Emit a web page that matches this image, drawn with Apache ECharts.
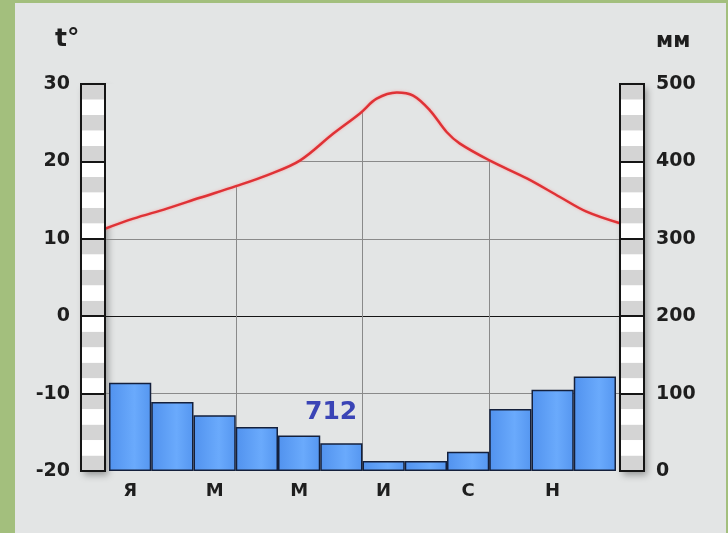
<!DOCTYPE html>
<html><head><meta charset="utf-8">
<script src="https://cdn.jsdelivr.net/npm/echarts@6/dist/echarts.min.js"></script>
<style>
html,body{margin:0;padding:0;}
body{width:728px;height:533px;background:#a3bf7d;position:relative;overflow:hidden;}
#bg{position:absolute;left:15px;top:3px;width:711px;height:530px;background:#e3e5e5;}
#chart{position:absolute;left:0;top:0;width:728px;height:533px;}
</style></head><body>
<div id="bg"></div><div id="chart"></div>
<script>
// ---- data ----
const months = ['Я','Ф','М','А','М','И','И','А','С','О','Н','Д'];
const precipitation = [114, 89, 72, 57, 46, 36, 13, 13, 25, 80, 105, 122];
// temperature curve: month position (0..12) and °C
const tempPos    = [0, 0.66, 1.44, 2.21, 3.05, 3.77, 4.54, 5.32, 5.94, 6.33, 6.80, 7.18, 7.57, 7.96, 8.27, 8.97, 9.83, 10.60, 11.22, 12];
const tempValues = [11.3, 12.6, 13.9, 15.3, 16.8, 18.2, 20.1, 23.6, 26.2, 28.1, 28.9, 28.5, 26.6, 23.8, 22.3, 20.1, 17.8, 15.4, 13.5, 12.0];
const tempMin = -20, tempMax = 30, tempStep = 10, stripeStep = 2;
const precMin = 0, precMax = 500, precStep = 100, precStripe = 20;
const seasonStep = 3;
const totalPrecip = 712;
const tempUnit = 't°', precUnit = 'мм';

const BG = '#e3e5e5';
const FONT = '"DejaVu Sans", Verdana, sans-serif';
const chart = echarts.init(document.getElementById('chart'));

const stripeBox = { top: 84, height: 387, width: 24 };
const stripeGrid = Object.assign({ show: true, z: 3, backgroundColor: 'transparent', borderColor: '#151515', borderWidth: 2 }, stripeBox);
const shadowGrid = Object.assign({ show: true, z: -1, backgroundColor: '#ffffff', borderWidth: 0,
  shadowColor: 'rgba(0,0,0,0.35)', shadowBlur: 7, shadowOffsetX: 3, shadowOffsetY: 4 }, stripeBox);
const labelStyle = { color: '#1e1e1e', fontWeight: 'bold', fontSize: 19, fontFamily: FONT };
const hiddenValue = (g) => ({ gridIndex: g, type: 'value', min: 0, max: 1, show: false, splitLine: { show: false } });

chart.setOption({
  animation: false,
  grid: [
    Object.assign({ left: 81 }, stripeGrid),
    Object.assign({ left: 620 }, stripeGrid),
    { left: 109, top: 84, width: 507, height: 387 },
    { left: 105, top: 84, width: 515, height: 387 },
    Object.assign({ left: 81 }, shadowGrid),
    Object.assign({ left: 620 }, shadowGrid)
  ],
  xAxis: [
    hiddenValue(0),
    hiddenValue(1),
    { gridIndex: 2, type: 'category', data: months, boundaryGap: true,
      axisLine: { show: false }, axisTick: { show: false },
      axisLabel: Object.assign({ interval: 1, margin: 11 }, labelStyle, { fontSize: 18 }),
      splitLine: { show: false } },
    { gridIndex: 3, type: 'value', min: 0, max: 12, show: false },
    { gridIndex: 2, type: 'value', position: 'top', min: 0, max: months.length, interval: seasonStep,
      axisLabel: { show: false }, axisLine: { show: false }, axisTick: { show: false },
      splitLine: { show: true, lineStyle: { color: ['transparent', '#8a8a8a', '#8a8a8a', '#8a8a8a', 'transparent'], width: 1 } } },
    hiddenValue(4),
    hiddenValue(5)
  ],
  yAxis: [
    { gridIndex: 0, type: 'value', position: 'left', min: tempMin, max: tempMax, interval: stripeStep,
      axisLabel: { show: false }, axisLine: { show: false }, axisTick: { show: false },
      splitLine: { show: false }, splitArea: { show: true, areaStyle: { color: ['#d4d4d4', '#ffffff'] } } },
    { gridIndex: 0, type: 'value', position: 'left', min: tempMin, max: tempMax, interval: tempStep,
      axisLine: { show: false }, axisTick: { show: false },
      axisLabel: Object.assign({ margin: 11 }, labelStyle),
      splitLine: { show: true, lineStyle: { color: '#151515', width: 2 } } },
    { gridIndex: 1, type: 'value', position: 'right', min: precMin, max: precMax, interval: precStripe,
      axisLabel: { show: false }, axisLine: { show: false }, axisTick: { show: false },
      splitLine: { show: false }, splitArea: { show: true, areaStyle: { color: ['#d4d4d4', '#ffffff'] } } },
    { gridIndex: 1, type: 'value', position: 'right', min: precMin, max: precMax, interval: precStep,
      axisLine: { show: false }, axisTick: { show: false },
      axisLabel: Object.assign({ margin: 12 }, labelStyle),
      splitLine: { show: true, lineStyle: { color: '#151515', width: 2 } } },
    { gridIndex: 2, type: 'value', min: precMin, max: precMax, show: false, splitLine: { show: false } },
    { gridIndex: 3, type: 'value', min: tempMin, max: tempMax, interval: tempStep,
      axisLabel: { show: false }, axisLine: { show: false }, axisTick: { show: false },
      splitLine: { show: true, lineStyle: { width: 1.2, color: ['transparent', '#8a8a8a', '#151515', '#8a8a8a', '#8a8a8a', 'transparent'] } } },
    hiddenValue(4),
    hiddenValue(5)
  ],
  series: [
    { type: 'bar', xAxisIndex: 2, yAxisIndex: 4, data: precipitation, barCategoryGap: '0%',
      itemStyle: {
        borderColor: '#14203c', borderWidth: 1.5,
        color: new echarts.graphic.LinearGradient(0, 0, 1, 0, [
          { offset: 0, color: '#5192ee' }, { offset: 0.6, color: '#6aaafc' }, { offset: 1, color: '#5596f0' }
        ])
      } },
    { type: 'line', xAxisIndex: 3, yAxisIndex: 5, data: tempPos.map((x, i) => [x, tempValues[i]]),
      smooth: 0.35, symbol: 'none', z: 2,
      lineStyle: { color: '#df3236', width: 2.5, shadowColor: 'rgba(255,140,140,0.7)', shadowBlur: 3 },
      areaStyle: { origin: 'end', color: BG, opacity: 1 } }
  ],
  graphic: [
    { type: 'text', left: 55, top: 27, style: { text: tempUnit, fill: '#1e1e1e', font: 'bold 25px ' + FONT } },
    { type: 'text', left: 656, top: 31, style: { text: precUnit, fill: '#1e1e1e', font: 'bold 21px ' + FONT } },
    { type: 'text', left: 305, top: 400, style: { text: String(totalPrecip), fill: '#3a44b6', font: 'bold 25px ' + FONT } }
  ]
});
</script>
</body></html>
